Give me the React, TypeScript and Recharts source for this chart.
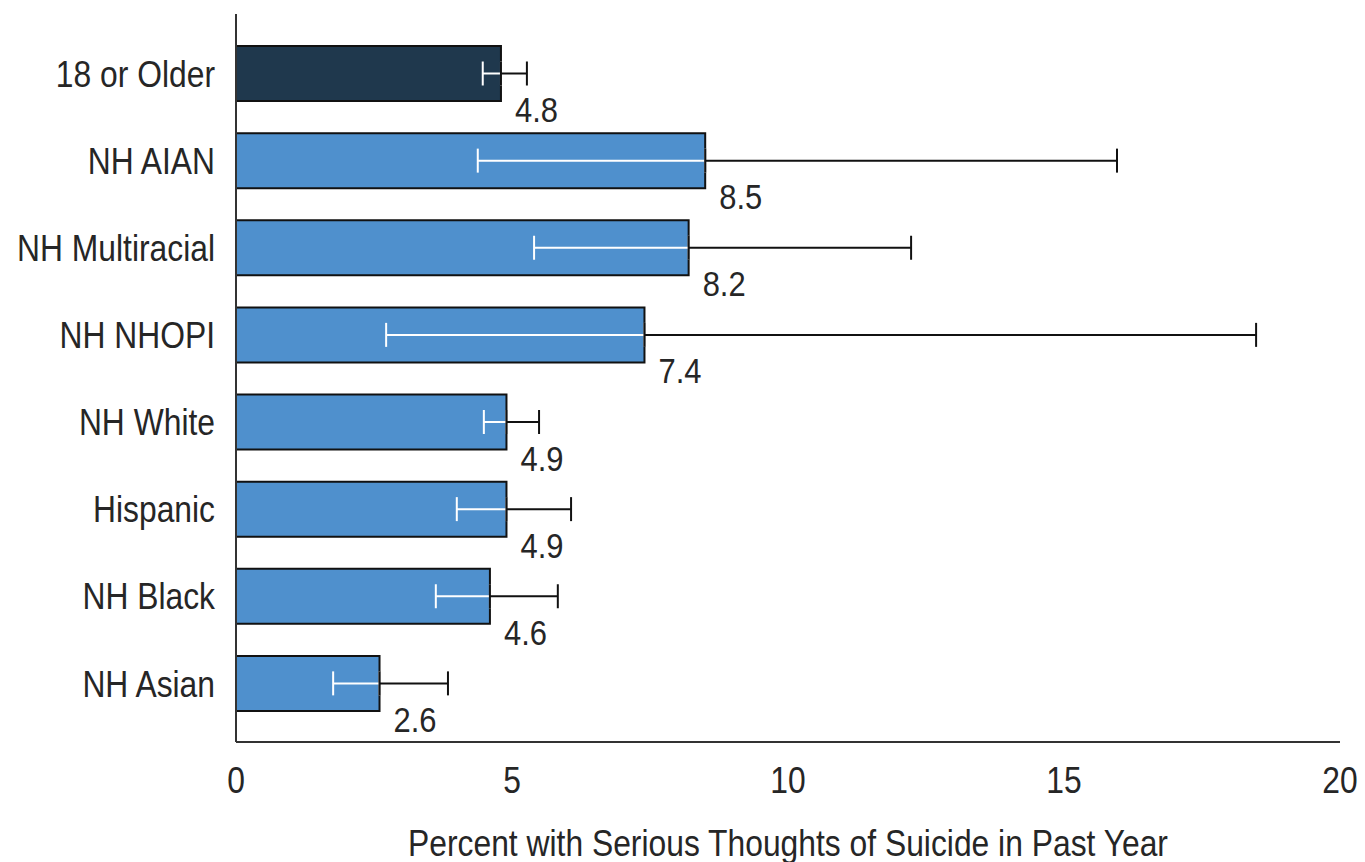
import React from 'react';
import { BarChart, Bar, XAxis, YAxis, ErrorBar, Cell, LabelList, Label } from 'recharts';

const categories = ['18 or Older', 'NH AIAN', 'NH Multiracial', 'NH NHOPI', 'NH White', 'Hispanic', 'NH Black', 'NH Asian'];
const values = [4.8, 8.5, 8.2, 7.4, 4.9, 4.9, 4.6, 2.6];
const lows = [4.47, 4.38, 5.4, 2.72, 4.49, 4.0, 3.62, 1.76];
const highs = [5.27, 15.96, 12.23, 18.48, 5.49, 6.07, 5.83, 3.84];
const xTicks = [0, 5, 10, 15, 20];
const xTitle = 'Percent with Serious Thoughts of Suicide in Past Year';

const DARK = '#1f384d';
const BLUE = '#4f90cd';
const TEXT = '#262626';
const FONT = "'Liberation Sans', Arial, sans-serif";
const SX = 0.86;

const data = categories.map((name, i) => ({
  name,
  value: values[i],
  lowErr: [values[i] - lows[i], 0],
  highErr: [0, highs[i] - values[i]],
}));

const CondText = ({ x, y, anchor, size, dy, children }: any) => (
  <g transform={`translate(${x},${y}) scale(${SX},1)`}>
    <text x={0} y={0} dy={dy} textAnchor={anchor} fontSize={size} fill={TEXT} fontFamily={FONT}>
      {children}
    </text>
  </g>
);

const ValueLabel = (props: any) => {
  const { x, y, width, height, value } = props;
  return (
    <CondText x={x + width + 14} y={y + height + 21} anchor="start" size={36} dy={0}>
      {Number(value).toFixed(1)}
    </CondText>
  );
};

const XTick = (props: any) => {
  const { x, y, payload } = props;
  return (
    <CondText x={x} y={y} anchor="middle" size={37} dy="0.71em">
      {payload.value}
    </CondText>
  );
};

const YTick = (props: any) => {
  const { x, y, payload } = props;
  return (
    <CondText x={x} y={y} anchor="end" size={37} dy="0.355em">
      {payload.value}
    </CondText>
  );
};

const XTitle = (props: any) => {
  const vb = props.viewBox || { x: 236, y: 742, width: 1104, height: 120 };
  return (
    <CondText x={vb.x + vb.width / 2} y={vb.y + 114} anchor="middle" size={37} dy={0}>
      {xTitle}
    </CondText>
  );
};

export default function App() {
  return (
    <div style={{ position: 'absolute', left: 0, top: 0, background: '#fff' }}>
      <BarChart
        width={1365}
        height={862}
        data={data}
        layout="vertical"
        margin={{ top: 14, right: 25, bottom: 0, left: 0 }}
      >
        <XAxis
          type="number"
          domain={[0, 20]}
          ticks={xTicks}
          tickLine={false}
          tickSize={0}
          tickMargin={25}
          axisLine={{ stroke: '#333', strokeWidth: 2 }}
          tick={<XTick />}
          height={120}
        >
          <Label content={<XTitle />} />
        </XAxis>
        <YAxis
          type="category"
          dataKey="name"
          width={236}
          tickLine={false}
          tickSize={0}
          tickMargin={21}
          padding={{ top: 16, bottom: 15 }}
          axisLine={{ stroke: '#333', strokeWidth: 2 }}
          tick={<YTick />}
        />
        <Bar dataKey="value" barSize={55} stroke="#111" strokeWidth={2} isAnimationActive={false}>
          {data.map((d, i) => (
            <Cell key={d.name} fill={i === 0 ? DARK : BLUE} />
          ))}
          <ErrorBar dataKey="lowErr" direction="x" stroke="#ffffff" strokeWidth={2} width={12} />
          <ErrorBar dataKey="highErr" direction="x" stroke="#111" strokeWidth={2} width={12} />
          <LabelList dataKey="value" content={<ValueLabel />} />
        </Bar>
      </BarChart>
    </div>
  );
}
